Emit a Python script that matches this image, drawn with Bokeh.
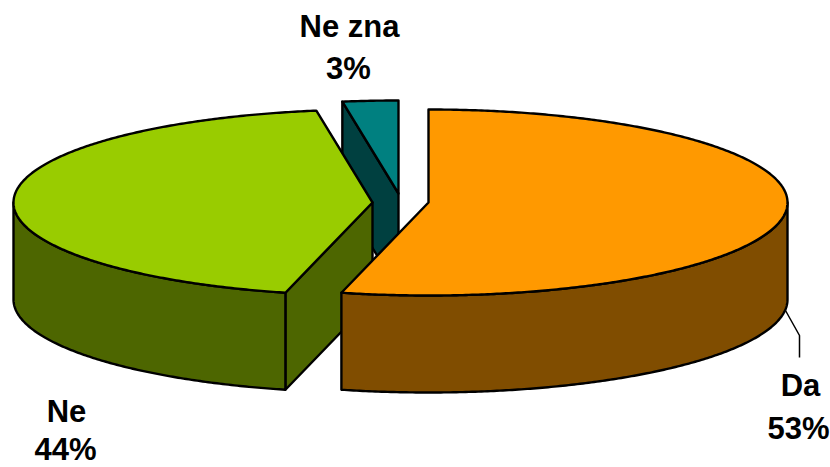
import numpy as np
from bokeh.plotting import figure
from bokeh.models import Range1d
from bokeh.core.properties import value
from bokeh.embed import file_html
from bokeh.resources import INLINE

# Slice data
categories = ["Da", "Ne", "Ne zna"]
percent_labels = ["53%", "44%", "3%"]
drawn_shares = [53.9, 43.6, 2.5]          # sweep of each slice
top_colors = ["#FF9900", "#99CC00", "#008080"]
side_colors = ["#804D00", "#4D6600", "#004040"]

# Layout of the exploded 3D pie (page pixels)
CX, CY, RX, RY, DEPTH = 428, 202, 359, 93, 97
explode_dx = [0, -56, -30]
explode_dy = [0, 0, -9]
label_x = [[800, 798], [66, 65], [349, 348]]
label_y = [[385, 428], [411, 449], [26, 68]]
leader_x = [785, 799, 799]
leader_y = [310, 335, 357]

p = figure(width=830, height=467, x_range=Range1d(0, 830), y_range=Range1d(467, 0),
           output_backend="svg", toolbar_location=None, min_border=0,
           outline_line_color=None, background_fill_color="white")
p.axis.visible = False
p.grid.visible = False


def rim(a0, a1, ox, oy, dz=0):
    t = np.radians(np.linspace(a0, a1, max(2, int(abs(a1 - a0)) * 2 + 1)))
    return ox + RX * np.sin(t), oy - RY * np.cos(t) + dz


# Angular extents from the shares
edges = np.concatenate([[0], np.cumsum(drawn_shares) * 3.6])
slices = [(i, edges[i], edges[i + 1]) for i in range(len(categories))]


def draw(xs, ys, color):
    p.patch(list(xs), list(ys), fill_color=color, line_color="black",
            line_width=2.4, line_join="round")


# Back to front: teal, green, orange
for i, a0, a1 in [slices[2], slices[1], slices[0]]:
    ox, oy = CX + explode_dx[i], CY + explode_dy[i]
    # Cut walls facing the viewer
    if 180 < a0 < 360:
        x, y = rim(a0, a0, ox, oy)
        draw([ox, x[0], x[0], ox], [oy, y[0], y[0] + DEPTH, oy + DEPTH], side_colors[i])
    # Outer wall (front half only)
    f0, f1 = max(a0, 90), min(a1, 270)
    if f1 > f0:
        x, y = rim(f0, f1, ox, oy)
        draw(np.concatenate([x, x[::-1]]), np.concatenate([y, y[::-1] + DEPTH]), side_colors[i])
    # Top face
    x, y = rim(a0, a1, ox, oy)
    draw(np.concatenate([[ox], x]), np.concatenate([[oy], y]), top_colors[i])

# Leader line for "Da"
p.line(leader_x, leader_y, line_color="black", line_width=1.5)

# Labels
for i in range(len(categories)):
    for txt, lx, ly in zip([categories[i], percent_labels[i]], label_x[i], label_y[i]):
        p.text([lx], [ly], text=[txt], text_font=value("Liberation Sans"),
               text_font_style="bold", text_font_size="31px", text_color="black",
               text_align="center", text_baseline="middle")

open("out.html", "w").write(file_html(p, INLINE))
